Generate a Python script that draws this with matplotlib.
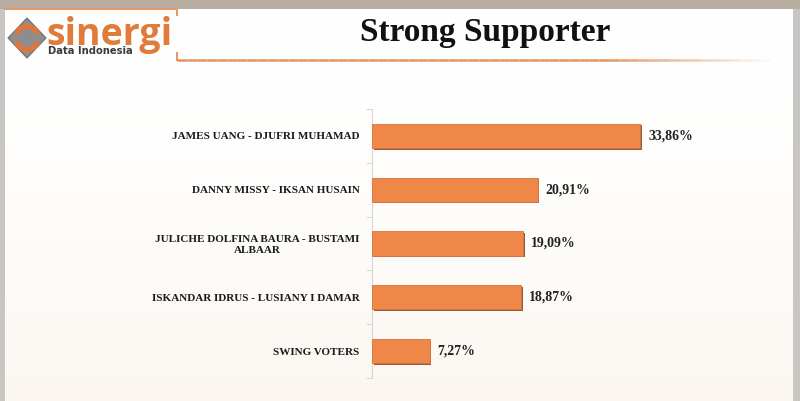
import numpy as np
import matplotlib
matplotlib.use("Agg")
import matplotlib.pyplot as plt
import matplotlib.transforms as mtransforms
from matplotlib.patches import Polygon, Rectangle, Wedge

# data
candidates = ['JAMES UANG - DJUFRI MUHAMAD',
              'DANNY MISSY - IKSAN HUSAIN',
              'JULICHE DOLFINA BAURA - BUSTAMI\nALBAAR',
              'ISKANDAR IDRUS - LUSIANY I DAMAR',
              'SWING VOTERS']
support = [33.86, 20.91, 19.09, 18.87, 7.27]
value_labels = ['33,86%', '20,91%', '19,09%', '18,87%', '7,27%']
title = 'Strong Supporter'

W, H = 800, 401
fig = plt.figure(figsize=(8, 4.01), dpi=100, facecolor='#c8c5c2')

# slide background (white fading to a light beige at the bottom)
bg = fig.add_axes([5 / W, 0, 788 / W, 392 / H])
grad = np.linspace(0, 1, 200).reshape(-1, 1) ** 2
c_top = np.array([1.0, 1.0, 1.0])
c_bot = np.array([0.985, 0.965, 0.94])
img = c_top + (c_bot - c_top) * grad[:, :, None]
bg.imshow(img, aspect='auto', extent=[0, 1, 0, 1], origin='upper')
bg.set_axis_off()

# top band of the screen
fig.patches.append(Rectangle((0, 392 / H), 1, 9 / H, transform=fig.transFigure,
                             facecolor='#b9ada2', edgecolor='none', zorder=0))

# logo + decorative lines (pixel coords, y from top)
deco = fig.add_axes([0, 0, 1, 1], zorder=1)
deco.set_xlim(0, W)
deco.set_ylim(H, 0)
deco.set_axis_off()
deco.plot([5, 177, 177], [9, 9, 15], color='#e39a66', lw=1.5)
deco.plot([177, 177], [53, 60], color='#e39a66', lw=1.5)
xs = np.linspace(177, 770, 60)
for i in range(len(xs) - 1):
    a = 1.0 if xs[i] < 600 else max(0, 1 - (xs[i] - 600) / 170)
    deco.plot(xs[i:i + 2], [60, 60], color='#e0955e', lw=1.8, alpha=a,
              solid_capstyle='butt')
deco.add_patch(Polygon([[27, 18], [46, 38], [27, 58], [8, 38]], closed=True,
                       facecolor='#8d8d8d', edgecolor='#6e6e6e', lw=0.8))
deco.add_patch(Wedge((27, 38), 14, 200, 340, width=5, facecolor='#e2763a'))
deco.add_patch(Wedge((27, 38), 14, 20, 160, width=5, facecolor='#e2763a'))
deco.text(46, 45, 'sinergi', fontsize=27, fontweight='bold', color='#e07b39',
          family='Open Sans', va='baseline', ha='left')
deco.text(48, 51, 'Data Indonesia', fontsize=7.2, fontweight='bold',
          color='#3a3a3a', family='DejaVu Sans', va='center', ha='left')

fig.text(485 / W, 1 - 32 / H, title, fontsize=24, fontweight='bold',
         family='Liberation Serif', ha='center', va='center', color='#111111')

# chart
ax = fig.add_axes([372 / W, 1 - 378 / H, 316.6 / W, 269 / H], zorder=2)
ax.patch.set_alpha(0)
ypos = np.arange(len(candidates))[::-1]
shadow = mtransforms.offset_copy(ax.transData, fig=fig, x=1.5, y=-1.5, units='dots')
ax.barh(ypos, support, height=0.45, color='#7d4320', alpha=0.85,
        transform=shadow, zorder=2)
ax.barh(ypos, support, height=0.45, color='#ef8748', edgecolor='#d9733a',
        lw=0.6, zorder=3)
for y, v, lab in zip(ypos, support, value_labels):
    ax.annotate(lab, (v, y), xytext=(8, 0), textcoords='offset pixels',
                va='center', ha='left', fontsize=10, fontweight='bold',
                family='Liberation Serif', color='#222222')

ax.set_xlim(0, 40)
ax.set_ylim(-0.5, len(candidates) - 0.5)
ax.set_yticks(ypos)
ax.set_yticklabels(candidates, fontsize=8, fontweight='bold',
                   family='Liberation Serif', color='#1a1a1a',
                   multialignment='center')
ax.set_yticks(np.arange(-0.5, len(candidates)), minor=True)
ax.tick_params(axis='y', which='major', length=0, pad=9)
ax.tick_params(axis='y', which='minor', length=4, color='#d0d0d0')
ax.set_xticks([])
for s in ['top', 'right', 'bottom']:
    ax.spines[s].set_visible(False)
ax.spines['left'].set_color('#d6d6d6')

fig.savefig('out.png', dpi=100, facecolor=fig.get_facecolor())
